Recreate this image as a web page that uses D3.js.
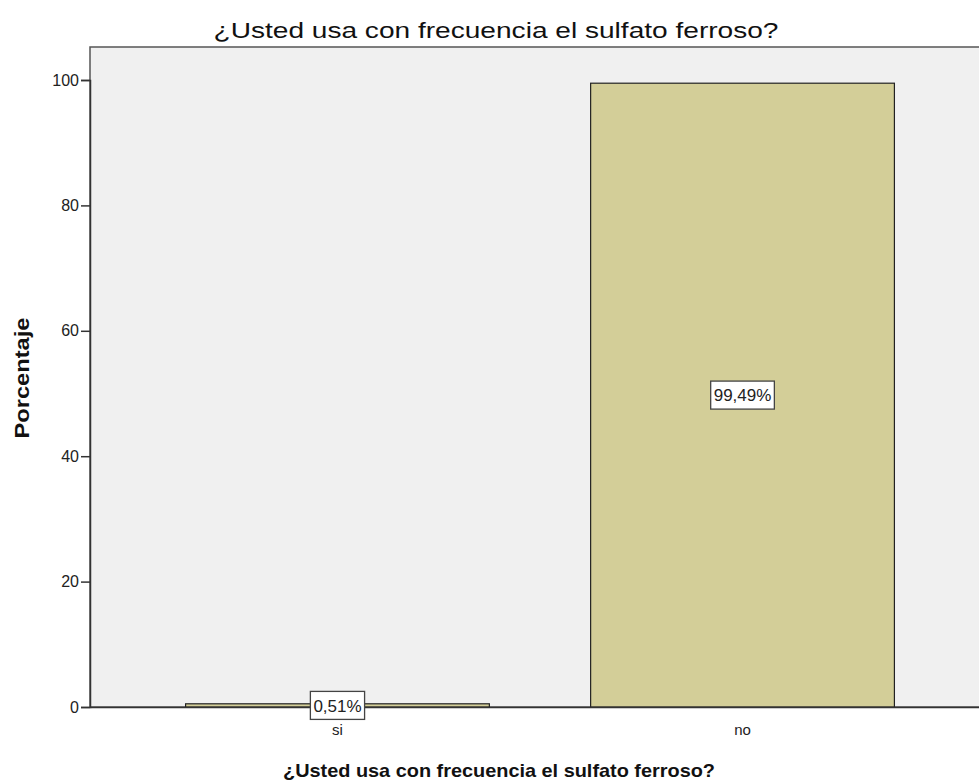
<!doctype html>
<html>
<head>
<meta charset="utf-8">
<title>Sulfato ferroso</title>
<style>
  body { margin: 0; background: #fff; }
  svg { font-family: "Liberation Sans", Arial, sans-serif; display: block; }
</style>
</head>
<body>
<div id="chart"></div>
<script src="https://d3js.org/d3.v7.min.js"></script>
<script>
const categories = ["si", "no"];
const values = [0.51, 99.49];
const valueLabels = ["0,51%", "99,49%"];
const yTicks = [0, 20, 40, 60, 80, 100];
const titleText = "¿Usted usa con frecuencia el sulfato ferroso?";

var W = 979, H = 782;
var plotLeft = 90, plotTop = 47, plotBottom = 707, plotRight = 990;
var axisFont = "Liberation Sans, Arial, sans-serif";

var svg = d3.select("#chart").append("svg")
  .attr("width", W)
  .attr("height", H);

// plot background
svg.append("rect")
  .attr("x", plotLeft).attr("y", plotTop)
  .attr("width", plotRight - plotLeft).attr("height", plotBottom - plotTop)
  .attr("fill", "#f0f0f0")
  .attr("stroke", "#555")
  .attr("stroke-width", 1.5);

var x = d3.scaleBand()
  .domain(categories)
  .range([plotLeft, plotRight])
  .paddingInner(0.25)
  .paddingOuter(0.236);

var y = d3.scaleLinear()
  .domain([0, 100])
  .range([plotBottom, 80]);

// bars
svg.append("g").selectAll("rect")
  .data(values)
  .enter().append("rect")
    .attr("x", (d, i) => x(categories[i]))
    .attr("y", d => y(d))
    .attr("width", x.bandwidth())
    .attr("height", d => y(0) - y(d))
    .attr("fill", "#d3ce98")
    .attr("stroke", "#222")
    .attr("stroke-width", 1.2);

// y axis
var yAxis = svg.append("g")
  .attr("transform", "translate(" + plotLeft + ",0)")
  .call(d3.axisLeft(y).tickValues(yTicks).tickSize(9).tickPadding(2).tickFormat(d3.format("d")));
yAxis.select(".domain").attr("stroke", "#333").attr("stroke-width", 1.5);
yAxis.selectAll(".tick line").attr("stroke", "#333").attr("stroke-width", 1.5);
yAxis.selectAll(".tick text").attr("font-size", 16).attr("fill", "#222")
  .attr("font-family", axisFont);

// x axis
var xAxis = svg.append("g")
  .attr("transform", "translate(0," + plotBottom + ")")
  .call(d3.axisBottom(x).tickSize(0).tickPadding(17));
xAxis.select(".domain").attr("stroke", "#333").attr("stroke-width", 1.5);
xAxis.selectAll(".tick text").attr("font-size", 15).attr("fill", "#222")
  .attr("font-family", axisFont);

// value labels in boxes
var lab = svg.append("g").selectAll("g")
  .data(values)
  .enter().append("g")
    .attr("transform", (d, i) => "translate(" + (x(categories[i]) + x.bandwidth() / 2) + "," + ((y(0) + y(d)) / 2) + ")");
lab.append("rect")
  .attr("fill", "#fff")
  .attr("stroke", "#444")
  .attr("stroke-width", 1.3);
var txt = lab.append("text")
  .attr("text-anchor", "middle")
  .attr("dy", "0.36em")
  .attr("font-size", 17)
  .attr("fill", "#222")
  .text((d, i) => valueLabels[i]);
txt.each(function() {
  var w = this.getComputedTextLength() + 6;
  d3.select(this.parentNode).select("rect")
    .attr("x", -w / 2).attr("y", -14)
    .attr("width", w).attr("height", 28);
});

// titles
svg.append("text")
  .attr("x", 496).attr("y", 38)
  .attr("text-anchor", "middle")
  .attr("font-size", 22)
  .attr("fill", "#111")
  .attr("textLength", 565)
  .attr("lengthAdjust", "spacingAndGlyphs")
  .text(titleText);

svg.append("text")
  .attr("x", 499).attr("y", 777)
  .attr("text-anchor", "middle")
  .attr("font-size", 19)
  .attr("font-weight", "bold")
  .attr("fill", "#111")
  .attr("textLength", 432)
  .attr("lengthAdjust", "spacingAndGlyphs")
  .text(titleText);

svg.append("text")
  .attr("transform", "translate(29,378) rotate(-90)")
  .attr("text-anchor", "middle")
  .attr("font-size", 20)
  .attr("font-weight", "bold")
  .attr("fill", "#111")
  .attr("textLength", 121)
  .attr("lengthAdjust", "spacingAndGlyphs")
  .text("Porcentaje");
</script>
</body>
</html>
